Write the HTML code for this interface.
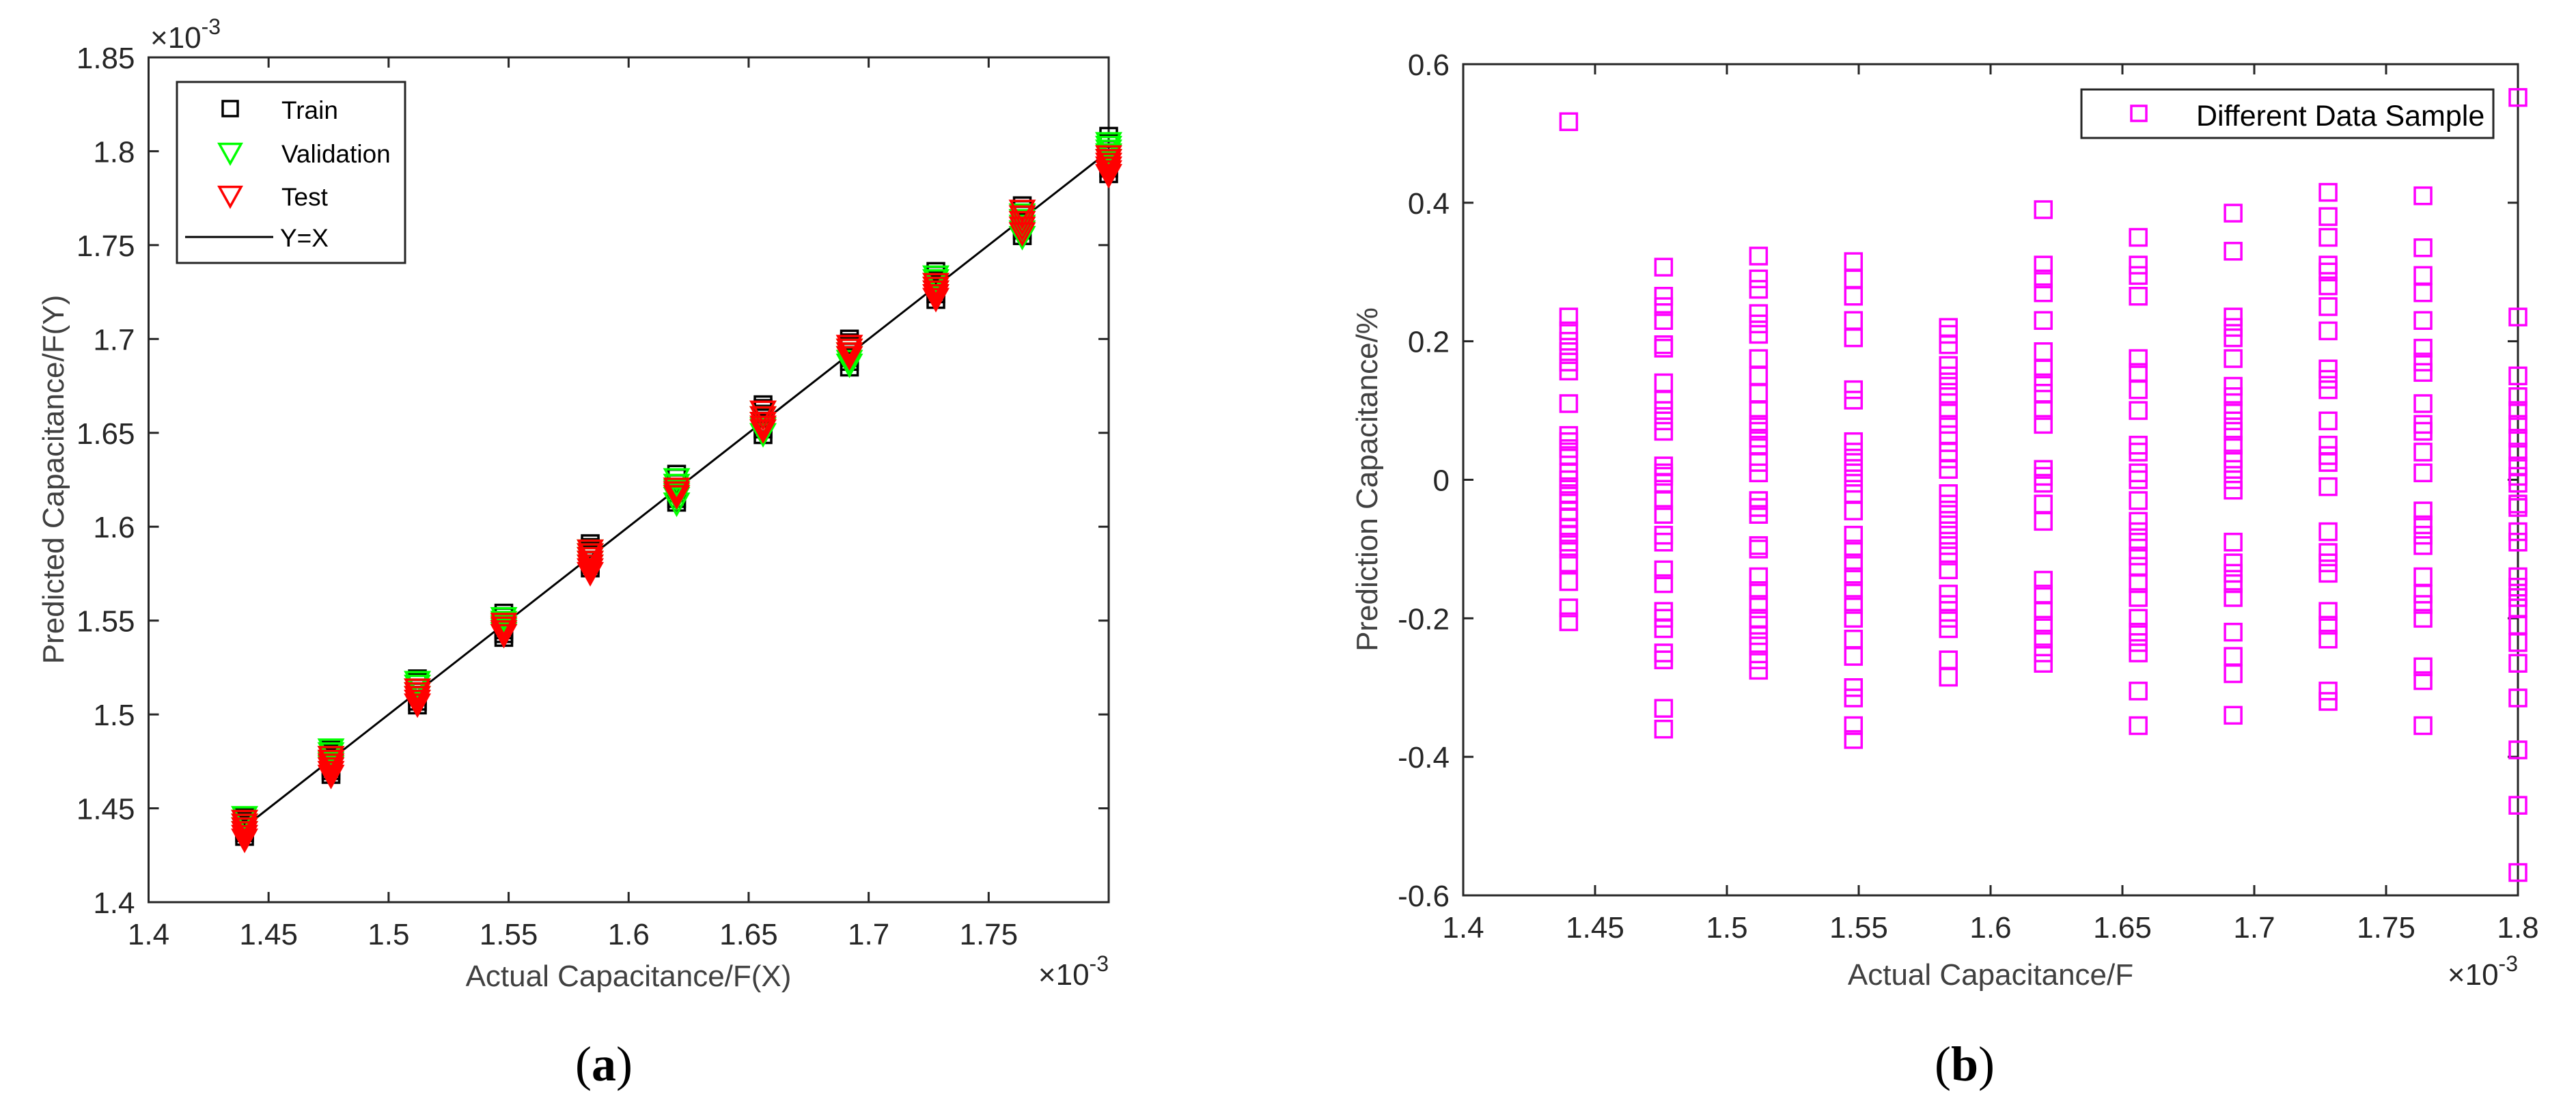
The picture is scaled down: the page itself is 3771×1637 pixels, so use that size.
<!DOCTYPE html>
<html><head><meta charset="utf-8"><style>
html,body{margin:0;padding:0;background:#fff;}
svg{display:block;font-family:"Liberation Sans",Arial,sans-serif;}
</style></head><body>
<svg id="fig" width="3771" height="1637" viewBox="0 0 3771 1637" xmlns="http://www.w3.org/2000/svg">
<g id="pa"></g>
<g id="pb"></g>
</svg>
<script>
// ---- Data (plot a) ----
const xCats = [1.44,1.476,1.512,1.548,1.584,1.62,1.656,1.692,1.728,1.764,1.8];
const trainVals = [
 [1.435,1.437,1.439,1.441,1.443,1.445,1.446],[1.468,1.470,1.472,1.475,1.477,1.479,1.481],
 [1.505,1.507,1.510,1.512,1.514,1.517,1.519],[1.541,1.543,1.545,1.548,1.550,1.552,1.554],
 [1.578,1.580,1.582,1.585,1.587,1.589,1.591],[1.613,1.615,1.618,1.620,1.623,1.626,1.628],
 [1.649,1.652,1.655,1.658,1.660,1.663,1.665],[1.685,1.688,1.690,1.693,1.696,1.698,1.700],
 [1.721,1.724,1.727,1.729,1.731,1.734,1.736],[1.755,1.758,1.761,1.764,1.766,1.769,1.771],
 [1.788,1.791,1.794,1.798,1.801,1.804,1.808]];
const valVals = [
 [1.437,1.439,1.441,1.443,1.445],[1.472,1.474,1.477,1.479,1.481],[1.509,1.511,1.513,1.515,1.517],
 [1.543,1.545,1.547,1.549,1.551],[1.579,1.581,1.583,1.585,1.587],
 [1.612,1.615,1.617,1.619,1.622,1.625],[1.649,1.652,1.655,1.658,1.661],[1.686,1.688,1.690,1.692,1.694],
 [1.725,1.727,1.729,1.731,1.733],[1.754,1.757,1.760,1.763,1.766],[1.795,1.798,1.800,1.802,1.804]];
const testVals = [
 [1.433,1.435,1.437,1.439,1.441,1.443],[1.467,1.469,1.471,1.473,1.475,1.477],[1.505,1.507,1.509,1.511,1.513],
 [1.542,1.544,1.546,1.548],[1.575,1.577,1.579,1.581,1.583,1.585,1.587],[1.616,1.618,1.620],
 [1.651,1.653,1.655,1.658,1.661],[1.690,1.692,1.694,1.696],[1.721,1.723,1.725,1.727,1.729],
 [1.756,1.759,1.762,1.765,1.768],[1.787,1.789,1.791,1.793,1.795,1.797]];
const aXTicks = [1.4,1.45,1.5,1.55,1.6,1.65,1.7,1.75,1.8];
const aXTickLabels = ["1.4","1.45","1.5","1.55","1.6","1.65","1.7","1.75",""];
const aYTicks = [1.4,1.45,1.5,1.55,1.6,1.65,1.7,1.75,1.8,1.85];
const aYTickLabels = ["1.4","1.45","1.5","1.55","1.6","1.65","1.7","1.75","1.8","1.85"];
// ---- Data (plot b) ----
const bCols = [
 [0.517,0.235,0.215,0.2,0.185,0.17,0.157,0.11,0.064,0.055,0.045,0.035,0.01,0,-0.01,-0.02,-0.03,-0.045,-0.055,-0.07,-0.08,-0.09,-0.1,-0.12,-0.147,-0.185,-0.205],
 [0.307,0.265,0.25,0.23,0.195,0.19,0.14,0.115,0.1,0.085,0.07,0.02,0.01,0.005,-0.005,-0.03,-0.05,-0.08,-0.09,-0.13,-0.15,-0.19,-0.2,-0.215,-0.25,-0.26,-0.33,-0.36],
 [0.323,0.29,0.275,0.24,0.225,0.21,0.175,0.15,0.125,0.1,0.08,0.07,0.06,0.05,0.025,0.01,-0.03,-0.04,-0.05,-0.095,-0.1,-0.14,-0.16,-0.18,-0.2,-0.21,-0.225,-0.24,-0.26,-0.275],
 [0.315,0.29,0.265,0.23,0.205,0.13,0.115,0.055,0.04,0.025,0.01,-0.005,-0.02,-0.045,-0.08,-0.1,-0.12,-0.14,-0.16,-0.18,-0.2,-0.23,-0.255,-0.3,-0.315,-0.355,-0.375],
 [0.22,0.21,0.195,0.165,0.15,0.135,0.12,0.1,0.08,0.065,0.04,0.03,0.015,-0.02,-0.035,-0.05,-0.065,-0.08,-0.095,-0.11,-0.13,-0.165,-0.18,-0.2,-0.215,-0.26,-0.285],
 [0.39,0.31,0.29,0.27,0.23,0.185,0.16,0.14,0.125,0.1,0.08,0.015,0.005,-0.005,-0.035,-0.06,-0.145,-0.165,-0.19,-0.21,-0.23,-0.25,-0.265],
 [0.35,0.31,0.295,0.265,0.175,0.155,0.13,0.1,0.05,0.04,0.01,0.0,-0.03,-0.06,-0.075,-0.09,-0.11,-0.125,-0.15,-0.17,-0.2,-0.22,-0.235,-0.25,-0.305,-0.355],
 [0.385,0.33,0.235,0.22,0.205,0.175,0.135,0.12,0.1,0.085,0.07,0.05,0.03,0.015,0.0,-0.015,-0.09,-0.12,-0.135,-0.15,-0.17,-0.22,-0.255,-0.28,-0.34],
 [0.415,0.38,0.35,0.31,0.3,0.28,0.25,0.215,0.16,0.145,0.13,0.085,0.05,0.035,0.025,-0.01,-0.075,-0.105,-0.12,-0.135,-0.19,-0.21,-0.23,-0.305,-0.32],
 [0.41,0.335,0.295,0.27,0.23,0.19,0.17,0.155,0.11,0.08,0.07,0.04,0.01,-0.045,-0.065,-0.08,-0.095,-0.14,-0.165,-0.18,-0.2,-0.27,-0.29,-0.355],
 [0.552,0.235,0.15,0.12,0.1,0.08,0.06,0.04,0.02,0.005,-0.005,-0.035,-0.04,-0.075,-0.09,-0.14,-0.155,-0.17,-0.185,-0.21,-0.235,-0.265,-0.315,-0.39,-0.47,-0.567]];
const bXTicks = [1.4,1.45,1.5,1.55,1.6,1.65,1.7,1.75,1.8];
const bXTickLabels = ["1.4","1.45","1.5","1.55","1.6","1.65","1.7","1.75","1.8"];
const bYTicks = [-0.6,-0.4,-0.2,0,0.2,0.4,0.6];
const bYTickLabels = ["-0.6","-0.4","-0.2","0","0.2","0.4","0.6"];

const NS="http://www.w3.org/2000/svg";
function mk(parent,tag,attrs,text){const e=document.createElementNS(NS,tag);for(const k in attrs)e.setAttribute(k,attrs[k]);if(text!==undefined)e.textContent=text;parent.appendChild(e);return e;}
const AX="#262626";

function axes(g,L,R,T,B,xs,ys,xt,xl,yt,yl){
  mk(g,'rect',{x:L,y:T,width:R-L,height:B-T,fill:'none',stroke:AX,'stroke-width':3});
  xt.forEach((v,i)=>{const x=xs(v);
    const t1=mk(g,'line',{x1:x,y1:B,x2:x,y2:B-15,stroke:AX,'stroke-width':3});
    
    
    mk(g,'line',{x1:x,y1:T,x2:x,y2:T+15,stroke:AX,'stroke-width':3});
    if(xl[i]){const t=mk(g,'text',{x:x,y:B+62,'font-size':44,fill:AX,'text-anchor':'middle'},xl[i]);
      
      }
  });
  yt.forEach((v,i)=>{const y=ys(v);
    const t1=mk(g,'line',{x1:L,y1:y,x2:L+15,y2:y,stroke:AX,'stroke-width':3});
    
    
    mk(g,'line',{x1:R,y1:y,x2:R-15,y2:y,stroke:AX,'stroke-width':3});
    const t=mk(g,'text',{x:L-20,y:y+16,'font-size':44,fill:AX,'text-anchor':'end'},yl[i]);
    
    
  });
}
function sq(g,x,y,s,c){return mk(g,'rect',{x:x-s/2,y:y-s/2,width:s,height:s,fill:'none',stroke:c,'stroke-width':3.5});}
function tri(g,x,y,s,c){const h=s*0.9;return mk(g,'polygon',{points:`${x-s/2},${y-h/2} ${x+s/2},${y-h/2} ${x},${y+h/2}`,fill:'none',stroke:c,'stroke-width':3.5});}
function exp10(g,x,y,anchorEnd){
  const t=mk(g,'text',{x:x,y:y,'font-size':44,fill:AX,'text-anchor':anchorEnd?'end':'start'});
  
  
  mk(t,'tspan',{},'\u00d710');
  mk(t,'tspan',{dy:-20,'font-size':32},'-3');
}

// ---- Plot a ----
(function(){
  const g=document.getElementById('pa');
  const L=217.5,R=1623,T=84,B=1321;
  const xs=v=>L+(v-1.4)/(0.4)*(R-L);
  const ys=v=>B-(v-1.4)/(0.45)*(B-T);
  axes(g,L,R,T,B,xs,ys,aXTicks,aXTickLabels,aYTicks,aYTickLabels);
  const ln=mk(g,'line',{x1:xs(1.44),y1:ys(1.44),x2:xs(1.8),y2:ys(1.8),stroke:'#000','stroke-width':3});
  
  
  xCats.forEach((xv,i)=>{
    trainVals[i].forEach(v=>{const m=sq(g,xs(xv),ys(v),24,'#000');
      
      });
    valVals[i].forEach(v=>{const m=tri(g,xs(xv),ys(v),34,'#00ff00');
      
      });
    testVals[i].forEach(v=>{const m=tri(g,xs(xv),ys(v),34,'#ff0000');
      
      });
  });
  const lg=mk(g,'g',{});
  
  
  mk(lg,'rect',{x:259,y:120,width:334,height:265,fill:'#fff',stroke:AX,'stroke-width':3});
  sq(lg,337,159,22,'#000');
  mk(lg,'text',{x:412,y:174,'font-size':37,fill:'#000'},'Train');
  tri(lg,337,225,32,'#00ff00');
  mk(lg,'text',{x:412,y:238,'font-size':37,fill:'#000'},'Validation');
  tri(lg,337,288,32,'#ff0000');
  mk(lg,'text',{x:412,y:301,'font-size':37,fill:'#000'},'Test');
  mk(lg,'line',{x1:271,y1:347,x2:400,y2:347,stroke:'#000','stroke-width':3});
  mk(lg,'text',{x:410,y:361,'font-size':37,fill:'#000'},'Y=X');
  exp10(g,220,70,false);
  exp10(g,1623,1442,true);
  const xt=mk(g,'text',{x:920,y:1444,'font-size':44,fill:'#404040','text-anchor':'middle'},'Actual Capacitance/F(X)');
  
  
  const yt=mk(g,'text',{x:0,y:0,'font-size':44,fill:'#404040','text-anchor':'middle',transform:'translate(93,702) rotate(-90)'},'Predicted Capacitance/F(Y)');
  
  
  const cap=mk(g,'text',{x:884,y:1582,'font-size':72,fill:'#000','text-anchor':'middle','font-family':'Liberation Serif, serif'});
  
  
  mk(cap,'tspan',{},'(');mk(cap,'tspan',{'font-weight':'bold'},'a');mk(cap,'tspan',{},')');
})();

// ---- Plot b ----
(function(){
  const g=document.getElementById('pb');
  const L=2142,R=3686,T=94,B=1311;
  const xs=v=>L+(v-1.4)/(0.4)*(R-L);
  const ys=v=>B-(v+0.6)/(1.2)*(B-T);
  axes(g,L,R,T,B,xs,ys,bXTicks,bXTickLabels,bYTicks,bYTickLabels);
  xCats.forEach((xv,i)=>{
    bCols[i].forEach(v=>{const m=sq(g,xs(xv),ys(v),24,'#ff00ff');
      
      });
  });
  const lg=mk(g,'g',{});
  
  
  mk(lg,'rect',{x:3047,y:131,width:603,height:71,fill:'#fff',stroke:AX,'stroke-width':3});
  sq(lg,3131,166,22,'#ff00ff');
  mk(lg,'text',{x:3215,y:184,'font-size':43,fill:'#000'},'Different Data Sample');
  exp10(g,3686,1442,true);
  const xt=mk(g,'text',{x:2914,y:1442,'font-size':44,fill:'#404040','text-anchor':'middle'},'Actual Capacitance/F');
  
  
  const yt=mk(g,'text',{x:0,y:0,'font-size':44,fill:'#404040','text-anchor':'middle',transform:'translate(2016,702) rotate(-90)'},'Prediction Capacitance/%');
  
  
  const cap=mk(g,'text',{x:2876,y:1582,'font-size':72,fill:'#000','text-anchor':'middle','font-family':'Liberation Serif, serif'});
  
  
  mk(cap,'tspan',{},'(');mk(cap,'tspan',{'font-weight':'bold'},'b');mk(cap,'tspan',{},')');
})();
</script>
</body></html>
